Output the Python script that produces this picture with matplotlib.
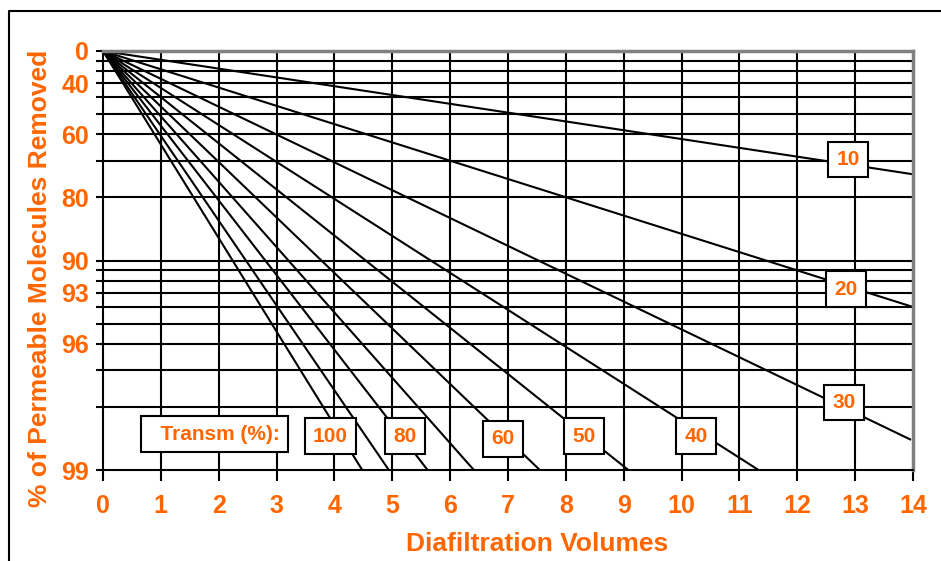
import numpy as np
import matplotlib
matplotlib.use("Agg")
import matplotlib.pyplot as plt
from matplotlib.lines import Line2D

plt.rcParams['font.family'] = ['Liberation Sans', 'DejaVu Sans']
plt.rcParams['font.weight'] = 'bold'

ORANGE = '#FF6600'

# transmission lines: start at (0 volumes, 0 % removed), end
transm = [100, 90, 80, 70, 60, 50, 40, 30, 20, 10]
end_volumes = [4.48, 4.94, 5.61, 6.41, 7.55, 9.08, 11.33, 13.95, 14.0, 14.0]
end_removed = [99.0, 99.0, 99.0, 99.0, 99.0, 99.0, 99.0, 98.6, 94.0, 74.2]

# labelled boxes (text, volumes, % removed)
box_text = ['10', '20', '30', '40', '50', '60', '80', '100']
box_x = [12.88, 12.84, 12.81, 10.25, 8.32, 6.91, 5.22, 3.93]
box_y = [69.7, 92.7, 97.9, 98.55, 98.55, 98.59, 98.55, 98.55]

x_ticks = list(range(0, 15))
y_grid = [0, 10, 20, 30, 40, 50, 60, 70, 80, 90, 91, 92, 93, 94, 95, 96, 97, 98, 99]
y_labels = ['0', '', '', '40', '', '', '60', '', '80', '90', '', '', '93', '', '', '96', '', '', '99']


def fwd(p):
    p = np.asarray(p, dtype=float)
    return -np.log10(np.clip(1 - p / 100.0, 1e-6, None))


def inv(v):
    return 100.0 * (1 - 10 ** (-np.asarray(v, dtype=float)))


fig = plt.figure(figsize=(9.41, 5.61), dpi=100)
ax = fig.add_axes([103 / 941, 1 - 470 / 561, 810 / 941, 419 / 561])

ax.set_yscale('function', functions=(fwd, inv))
ax.set_xlim(0, 14)
ax.set_ylim(99, 0)

# grid
for g in y_grid[1:-1]:
    ax.axhline(g, color='black', lw=1.5, zorder=1)
for x in x_ticks[1:-1]:
    ax.axvline(x, color='black', lw=1.5, zorder=1)

for t, xe, ye in zip(transm, end_volumes, end_removed):
    ax.plot([0, xe], [0, ye], color='black', lw=1.5, zorder=2, clip_on=True)

box_style = dict(boxstyle='square,pad=0.4', fc='white', ec='black', lw=1.5)
for txt, bx, by in zip(box_text, box_x, box_y):
    ax.text(bx, by, txt, color=ORANGE, fontsize=15, fontweight='bold',
            ha='center', va='center', zorder=5, bbox=box_style)

ax.text(1.93, 98.52, '  Transm (%):', color=ORANGE, fontsize=15, fontweight='bold',
        ha='center', va='center', zorder=5, bbox=box_style)

ax.set_xticks(x_ticks)
ax.set_xticklabels([str(v) for v in x_ticks])
ax.set_yticks(y_grid)
ax.set_yticklabels(y_labels)
ax.minorticks_off()
ax.tick_params(axis='x', length=8, width=1.5, pad=9, labelsize=18, labelcolor=ORANGE)
ax.tick_params(axis='y', length=5, width=1.5, pad=5, labelsize=18, labelcolor=ORANGE)

for side in ['left', 'bottom']:
    ax.spines[side].set_color('black')
    ax.spines[side].set_linewidth(1.5)
for side in ['top', 'right']:
    ax.spines[side].set_color('#808080')
    ax.spines[side].set_linewidth(2.5)

fig.text(537 / 941, 1 - 544 / 561, 'Diafiltration Volumes', color=ORANGE,
         fontsize=19, fontweight='bold', ha='center', va='center')
fig.text(40 / 941, 1 - 278 / 561, '% of Permeable Molecules Removed', color=ORANGE,
         fontsize=19, fontweight='bold', ha='center', va='center', rotation=90)

# outer frame, cut off at right and bottom
fig.add_artist(Line2D([9 / 941, 9 / 941, 1.0], [0.0, 1 - 11 / 561, 1 - 11 / 561],
                      transform=fig.transFigure, color='black', lw=1.5))

fig.savefig('out.png', dpi=100)
